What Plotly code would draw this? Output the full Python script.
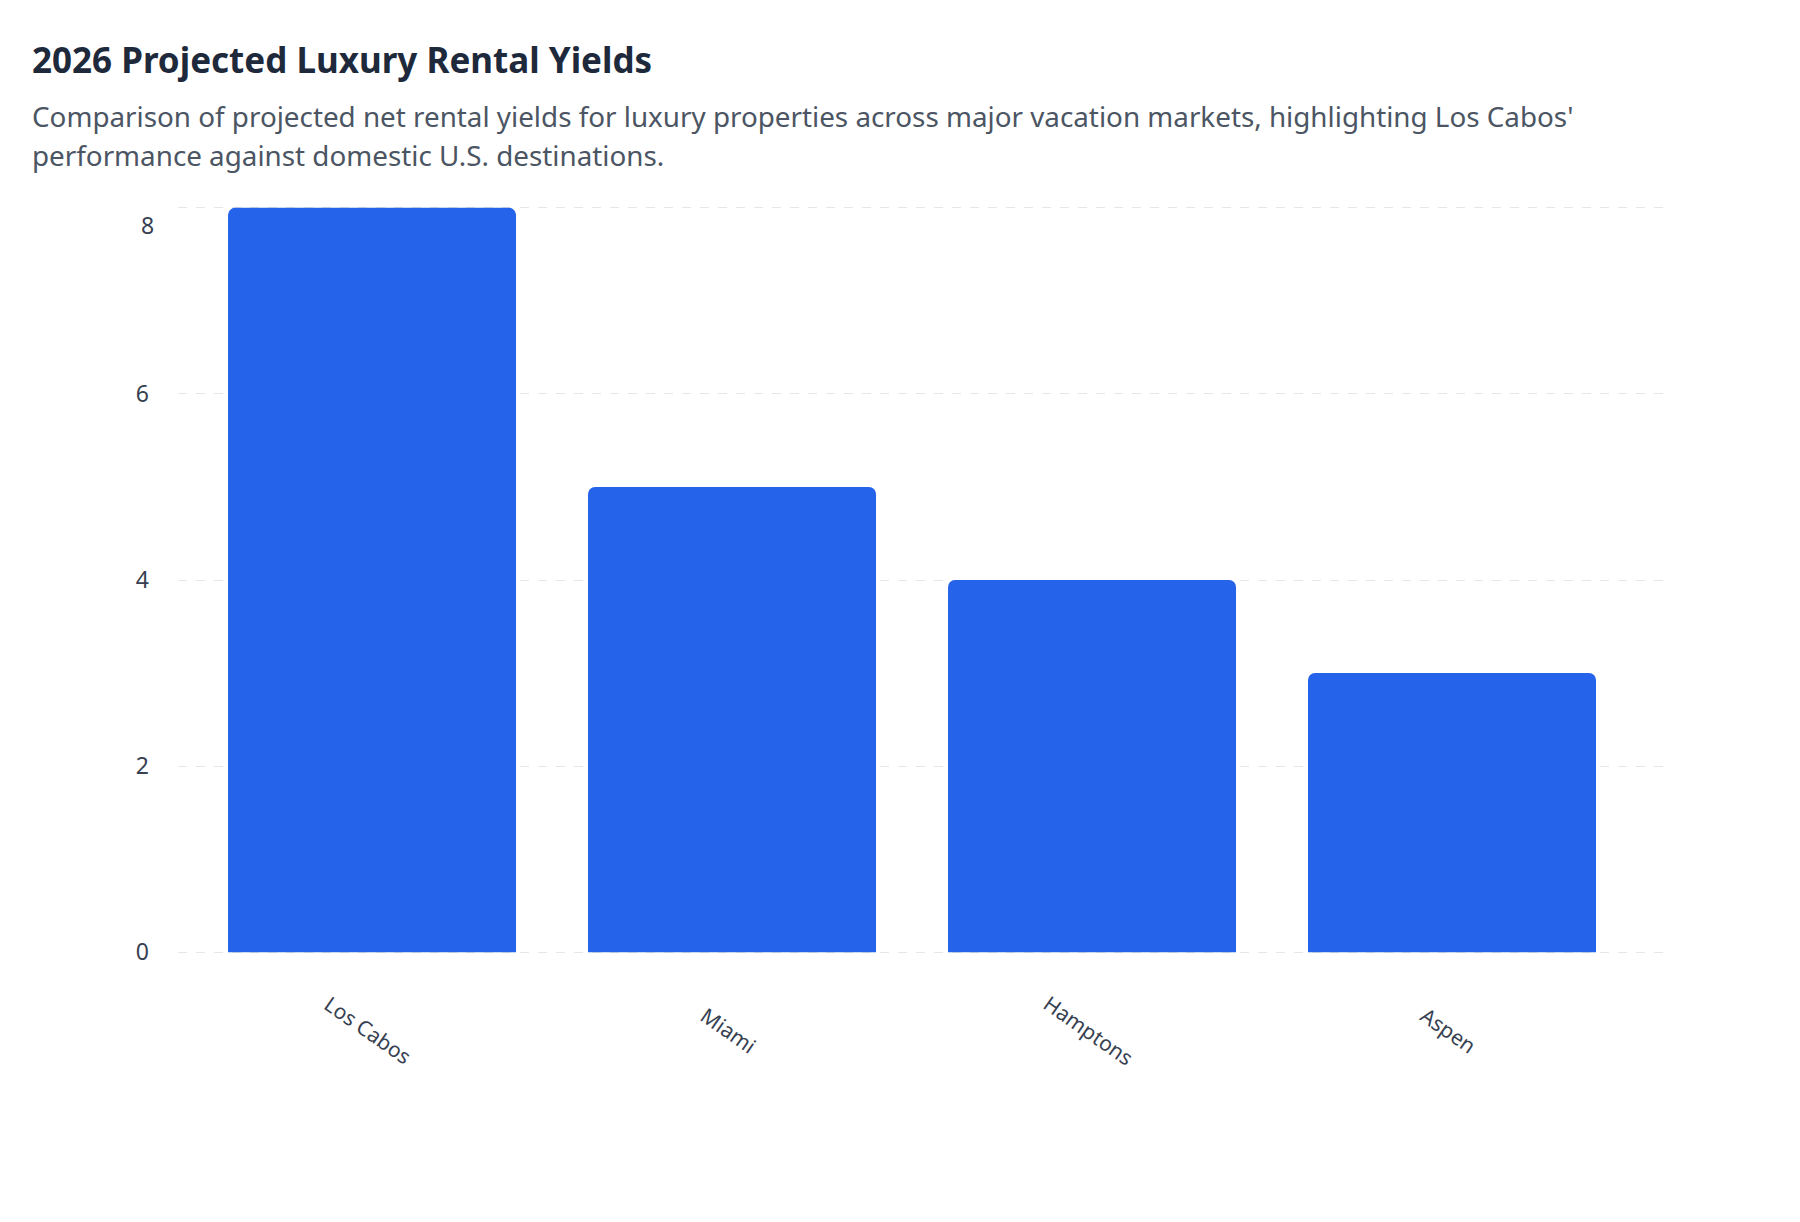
import plotly.graph_objects as go

markets = ["Los Cabos", "Miami", "Hamptons", "Aspen"]
net_yield = [8.0, 5.0, 4.0, 3.0]
y_ticks = [0, 2, 4, 6, 8]
y_labels = ["0", "2", "4", "6", ""]  # the top label is drawn separately, nudged down

title_text = "2026 Projected Luxury Rental Yields"
subtitle_lines = [
    "Comparison of projected net rental yields for luxury properties across major vacation markets, highlighting Los Cabos'",
    "performance against domestic U.S. destinations.",
]

L, T, PW, PH = 170, 198, 1490, 748

fig = go.Figure()
fig.add_trace(go.Bar(
    x=markets,
    y=net_yield,
    marker=dict(color="#2563eb", cornerradius=7, line=dict(width=0)),
    hoverinfo="x+y",
))

# title and subtitle in the top-left corner
fig.add_annotation(text="<b>" + title_text + "</b>", xref="paper", yref="paper",
                   x=(22 - L) / PW, y=1 + (T - 52) / PH, xanchor="left", yanchor="middle",
                   showarrow=False, font=dict(size=35, color="#1e293b"))
for i, line in enumerate(subtitle_lines):
    fig.add_annotation(text=line, xref="paper", yref="paper",
                       x=(22 - L) / PW, y=1 + (T - (108 + 39 * i)) / PH,
                       xanchor="left", yanchor="middle", showarrow=False,
                       font=dict(size=27.8, color="#4b5563"))

# rotated category labels, centred under each bar
for m in markets:
    fig.add_annotation(text=m, x=m, xref="x", yref="paper", y=-76 / PH,
                       xanchor="center", yanchor="middle", showarrow=False, xshift=-4,
                       textangle=35, font=dict(size=21, color="#374151"))

# top y label sits a little below its gridline
fig.add_annotation(text=str(y_ticks[-1]), x=(148 - L) / PW, xref="paper", y=y_ticks[-1], yref="y",
                   xanchor="right", yanchor="middle", yshift=-17, showarrow=False,
                   font=dict(size=23, color="#374151"))

fig.update_layout(
    width=1800,
    height=1222,
    margin=dict(l=L, r=1800 - L - PW, t=T, b=1222 - T - PH),
    paper_bgcolor="white",
    plot_bgcolor="white",
    font=dict(family="Noto Sans, Open Sans, sans-serif", color="#374151"),
    bargap=0.2,
    showlegend=False,
    xaxis=dict(range=[-0.539, 3.600], showticklabels=False, showgrid=False,
               zeroline=False, showline=False, ticks=""),
    yaxis=dict(range=[-0.02, 8.02], tickvals=y_ticks, ticktext=y_labels, showgrid=True,
               gridcolor="#e6e6e6", griddash="dash", gridwidth=1, zeroline=False,
               showline=False, ticks="", ticklabelstandoff=28,
               tickfont=dict(size=23, color="#374151")),
)

fig.write_html("out.html")
